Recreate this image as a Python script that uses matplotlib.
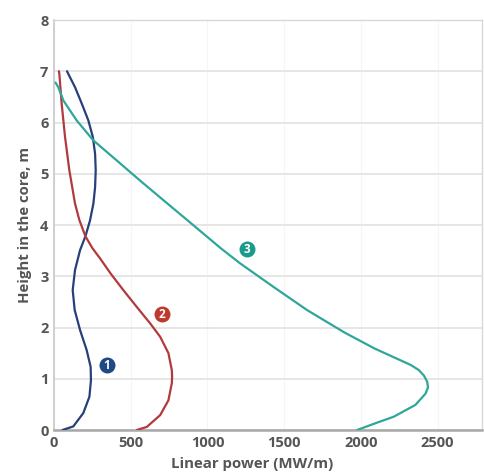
import matplotlib
matplotlib.use("Agg")
import matplotlib.pyplot as plt

# Curve 1 (dark blue)
h1 = [0.0, 0.07, 0.33, 0.65, 0.97, 1.23, 1.56, 1.95, 2.34, 2.73, 3.12, 3.51, 3.78, 4.09,
      4.42, 4.74, 5.07, 5.39, 5.72, 6.04, 6.37, 6.69, 6.95, 7.0]
p1 = [55, 126, 191, 231, 241, 239, 213, 170, 135, 122, 137, 170, 205, 235,
      257, 268, 272, 268, 253, 224, 181, 137, 93, 85]

# Curve 2 (red)
h2 = [0.0, 0.06, 0.29, 0.58, 0.91, 1.04, 1.17, 1.50, 1.82, 2.08, 2.40, 2.73, 3.05, 3.35,
      3.55, 3.78, 4.10, 4.42, 5.07, 5.72, 6.37, 6.95, 7.0]
p2 = [540, 605, 692, 746, 768, 770, 768, 746, 692, 627, 540, 452, 370, 300,
      250, 205, 165, 137, 100, 72, 50, 35, 32]

# Curve 3 (teal)
h3 = [0.0, 0.12, 0.26, 0.49, 0.71, 0.83, 0.94, 1.06, 1.17, 1.27, 1.36, 1.59, 1.90, 2.34,
      2.79, 3.25, 3.54, 4.03, 4.48, 4.87, 5.26, 5.65, 6.04, 6.43, 6.69, 6.78]
p3 = [1976, 2084, 2215, 2356, 2422, 2438, 2433, 2412, 2378, 2325, 2259, 2090, 1895, 1650,
      1432, 1214, 1090, 895, 715, 560, 409, 257, 148, 61, 28, 10]

labels = ["1", "2", "3"]
label_x = [344, 703, 1258]
label_y = [1.27, 2.27, 3.54]

xticks = [0, 500, 1000, 1500, 2000, 2500]
yticks = [0, 1, 2, 3, 4, 5, 6, 7, 8]

line_colors = ["#27407a", "#b03a3e", "#2fa69a"]
badge_colors = ["#1f4a86", "#c0392f", "#1b9a8c"]

plt.rcParams['font.family'] = ['Open Sans', 'DejaVu Sans']

fig = plt.figure(figsize=(4.85, 4.74), dpi=100)
ax = fig.add_axes([0.1113, 0.0928, 0.8825, 0.865])

for h, p, c in zip([h1, h2, h3], [p1, p2, p3], line_colors):
    ax.plot(p, h, color=c, lw=1.6, solid_capstyle='round', solid_joinstyle='round', zorder=3)

for t, x, y, c in zip(labels, label_x, label_y, badge_colors):
    ax.plot([x], [y], marker='o', ms=11.5, color=c, mec='none', zorder=4)
    ax.text(x, y - 0.01, t, color='white', fontsize=8.5, fontweight='bold',
            ha='center', va='center', zorder=5)

ax.set_xlim(0, 2790)
ax.set_ylim(0, 8)
ax.set_xticks(xticks)
ax.set_yticks(yticks)
ax.grid(axis='y', color='#e6e6e6', lw=1.4)
ax.grid(axis='x', color='#f5f5f5', lw=0.8)
ax.set_axisbelow(True)

for s in ['top', 'right']:
    ax.spines[s].set_color('#d8d8d8')
    ax.spines[s].set_linewidth(1.0)
ax.spines['left'].set_color('#c8c8c8')
ax.spines['left'].set_linewidth(1.2)
ax.spines['bottom'].set_color('#a8a8a8')
ax.spines['bottom'].set_linewidth(1.8)

ax.tick_params(length=0, labelsize=10.5, labelcolor='#555555', pad=4)
for lab in ax.get_xticklabels() + ax.get_yticklabels():
    lab.set_fontweight('bold')

ax.set_xlabel("Linear power (MW/m)", fontsize=10.8, color='#555555', fontweight='bold')
ax.xaxis.label.set_va('center')
ax.xaxis.set_label_coords((252 - 54) / 428, -(464 - 430) / 410)
ax.set_ylabel("Height in the core, m", fontsize=10.8, color='#555555', fontweight='bold', labelpad=6)

fig.savefig("out.png", dpi=100, facecolor='white')
